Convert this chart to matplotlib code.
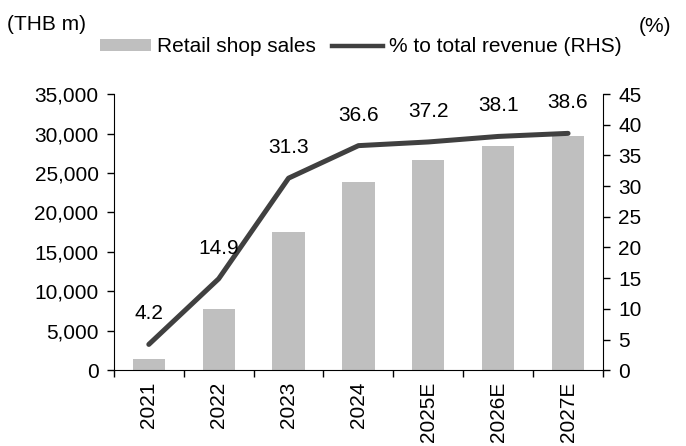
import matplotlib.pyplot as plt
from matplotlib.lines import Line2D
from matplotlib.patches import Patch
from matplotlib.ticker import FuncFormatter
import numpy as np

plt.rcParams["font.family"] = ["Liberation Sans", "DejaVu Sans"]
plt.rcParams["font.size"] = 15

years = ["2021", "2022", "2023", "2024", "2025E", "2026E", "2027E"]
retail_sales = [1450, 7800, 17500, 23850, 26700, 28450, 29700]
pct_revenue = [4.2, 14.9, 31.3, 36.6, 37.2, 38.1, 38.6]

bar_color = "#BFBFBF"
line_color = "#404040"

fig = plt.figure(figsize=(6.86, 4.46), dpi=100)
ax = fig.add_axes([0.166, 0.170, 0.713, 0.619])
ax2 = ax.twinx()

x = np.arange(len(years))
ax.bar(x, retail_sales, width=0.46, color=bar_color, zorder=1)
ax2.plot(x, pct_revenue, color=line_color, lw=3.6, solid_capstyle="round", zorder=3)

for xi, v in zip(x, pct_revenue):
    ax2.annotate(f"{v:.1f}", xy=(xi, v), xytext=(0, 22), textcoords="offset points",
                 ha="center", va="center", fontsize=15)

ax.set_xlim(-0.5, len(years) - 0.5)
ax.set_ylim(0, 35000)
ax2.set_ylim(0, 45)
ax.set_yticks(np.arange(0, 35001, 5000))
ax2.set_yticks(np.arange(0, 46, 5))
ax.yaxis.set_major_formatter(FuncFormatter(lambda v, p: f"{int(v):,}"))

ax.set_xticks(x)
ax.set_xticklabels(years, rotation=90)
ax.set_xticks(np.arange(-0.5, len(years), 1), minor=True)
ax.tick_params(axis="x", which="major", length=0, pad=8)
ax.tick_params(axis="x", which="minor", length=5, direction="out", width=1)
ax.tick_params(axis="y", length=5, direction="out", width=1, pad=6)
ax2.tick_params(axis="y", length=5, direction="out", width=1, pad=6)

for a in (ax, ax2):
    a.spines["top"].set_visible(False)
ax2.spines["left"].set_visible(False)
ax2.spines["bottom"].set_visible(False)
ax.spines["right"].set_visible(False)

fig.text(0.010, 0.945, "(THB m)", fontsize=15, va="center", ha="left")
fig.text(0.978, 0.940, "(%)", fontsize=15, va="center", ha="right")

handles = [Patch(facecolor=bar_color, edgecolor="none"),
           Line2D([0], [0], color=line_color, lw=3.2)]
fig.legend(handles, ["Retail shop sales", "% to total revenue (RHS)"], ncol=2,
           loc="center", bbox_to_anchor=(0.526, 0.895), frameon=False,
           handlelength=2.45, handleheight=0.5, handletextpad=0.28, columnspacing=0.75,
           borderpad=0, fontsize=15)

plt.savefig("out.png", dpi=100)
